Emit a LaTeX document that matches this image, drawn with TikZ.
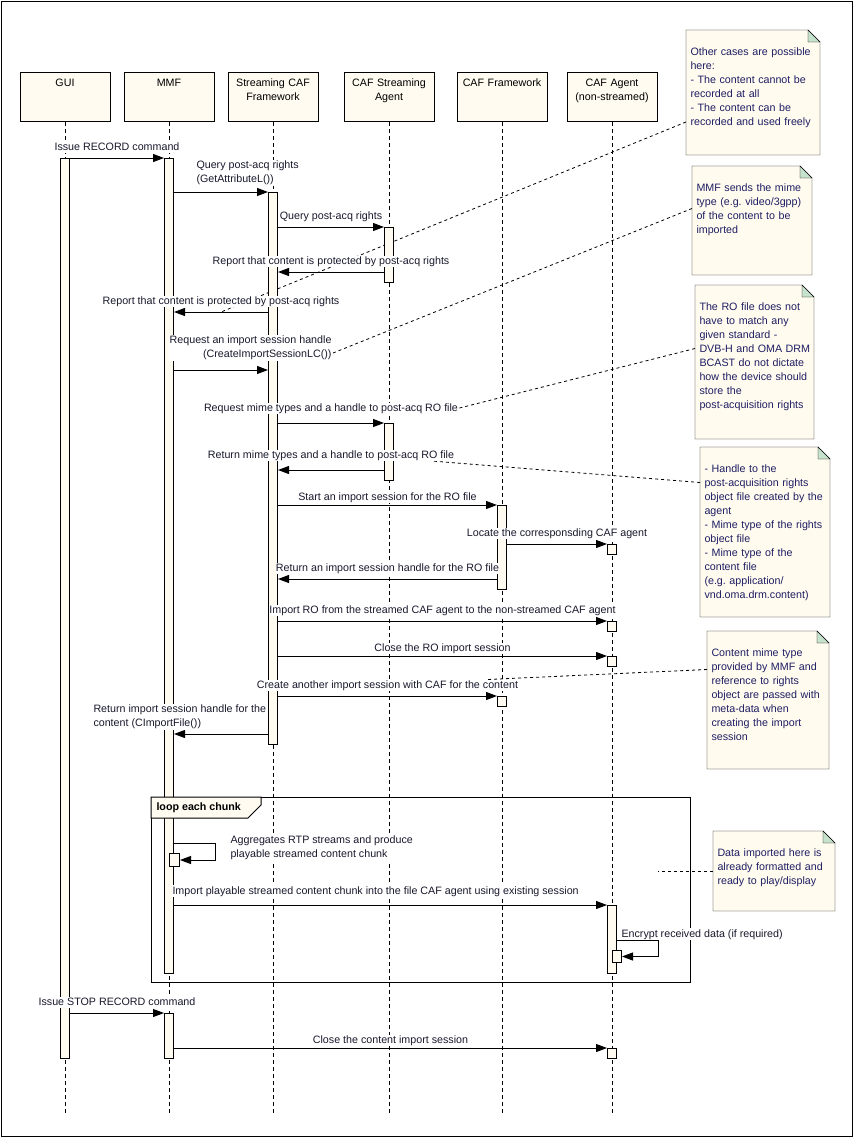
\documentclass[tikz,border=0pt]{standalone}
\usepackage{fontspec}
\setmainfont{Liberation Sans}
\usetikzlibrary{arrows.meta,backgrounds}
\frenchspacing

\definecolor{cream}{RGB}{255,251,240}
\definecolor{notefill}{RGB}{255,251,238}
\definecolor{fold}{RGB}{198,226,204}
\definecolor{notetext}{RGB}{30,30,100}
\definecolor{msgtext}{RGB}{25,25,45}

\tikzset{
  head/.style={draw, fill=cream, anchor=north, minimum width=90pt, minimum height=49pt,
    text width=86pt, align=center, inner sep=2pt, text height=12pt, text depth=33pt},
  life/.style={dash pattern=on 4pt off 3pt},
  act/.style={draw, fill=cream, anchor=north, minimum width=9pt, inner sep=0pt},
  msg/.style={->, >={Triangle[length=11pt,width=8pt]}},
  lbl/.style={above, fill=white, inner sep=0pt, yshift=5pt, text height=8pt, text depth=2.5pt, text=msgtext},
  lbll/.style={fill=white, inner sep=1pt, align=left, text=msgtext},
  note/.style={anchor=north west, inner xsep=4pt, inner ysep=5pt, text height=20pt, align=left, text=notetext},
  link/.style={dash pattern=on 3pt off 3pt, line width=0.8pt},
}

\begin{document}
\begin{tikzpicture}[x=1pt, y=-1pt, line width=1pt, font=\fontsize{10.7}{14}\selectfont]
   \useasboundingbox (0,0) rectangle (854,1138);
   \draw (1,1) rectangle (852,1136);

   % lifeline heads
   \node[head] (gui) at (65,72) {GUI};
   \node[head] (mmf) at (169,72) {MMF};
   \node[head] (scf) at (273,72) {Streaming CAF\\Framework};
   \node[head] (csa) at (389,72) {CAF Streaming\\Agent};
   \node[head] (cfw) at (502,72) {CAF Framework};
   \node[head] (caf) at (612,72) {CAF Agent\\(non-streamed)};
   \foreach \p in {gui,mmf,scf,csa,cfw,caf}
      \draw[life] (\p.south) -- (\p.south |- 0,1115);

   % activations
   \node[act, minimum height=900pt] (guiact) at (gui.south |- 0,158) {};
   \node[act, minimum height=815pt] (mmfact) at (mmf.south |- 0,158) {};
   \node[act, minimum height=45pt] (mmfact2) at (mmf.south |- 0,1013) {};
   \node[act, minimum height=552pt] (scfact) at (scf.south |- 0,192) {};
   \node[act, minimum height=55pt] (csaact) at (csa.south |- 0,227) {};
   \node[act, minimum height=57pt] (csaact2) at (csa.south |- 0,423) {};
   \node[act, minimum height=84pt] (cfwact) at (cfw.south |- 0,505) {};
   \node[act, minimum height=10pt] (cfwbox) at (cfw.south |- 0,696) {};
   \node[act, minimum height=10pt] (cafbox1) at (caf.south |- 0,544) {};
   \node[act, minimum height=10pt] (cafbox2) at (caf.south |- 0,621) {};
   \node[act, minimum height=10pt] (cafbox3) at (caf.south |- 0,656) {};
   \node[act, minimum height=68pt] (cafact) at (caf.south |- 0,905) {};
   \node[act, minimum height=10pt] (cafbox4) at (caf.south |- 0,1048) {};
   \node[act, anchor=north west, minimum width=10pt, minimum height=13pt] (mmfsub) at (mmf.south |- 0,853) {};
   \node[act, anchor=north west, minimum height=12pt] (cafsub) at (caf.south |- 0,950) {};

   % loop fragment
   \node[draw, anchor=north west, minimum width=539pt, minimum height=185pt, inner sep=0pt] (loopfr) at (151,797) {};
   \draw[fill=cream] (loopfr.north west) -- ++(110,0) -- ++(0,8) -- ++(-13,13) -- ++(-97,0) -- cycle;
   \node[anchor=west, inner sep=0pt, font=\fontsize{10.7}{14}\selectfont\bfseries] (looplbl) at (156,807.5) {loop each chunk};

   % messages
   \draw[msg] (guiact.east |- 0,158) -- node[lbl] (l1) {Issue RECORD command} (mmfact.west |- 0,158);
   \draw[msg] (mmfact.east |- 0,192) -- (scfact.north west);
   \node[lbll, anchor=south west] (l2) at (195,186) {Query post-acq rights\\(GetAttributeL())};
   \draw[msg] (scfact.east |- 0,227) -- node[lbl] (l3) {Query post-acq rights} (csaact.north west);
   \draw[msg] (csaact.west |- 0,272) -- node[lbl] (l4) {Report that content is protected by post-acq rights} (scfact.east |- 0,272);
   \draw[msg] (scfact.west |- 0,312) -- node[lbl] (l5) {Report that content is protected by post-acq rights} coordinate[midway] (m5) (mmfact.east |- 0,312);
   \draw[msg] (mmfact.east |- 0,370) -- (scfact.west |- 0,370);
   \node[lbll, align=right, anchor=south east] (l6) at (333,361) {Request an import session handle\\(CreateImportSessionLC())};
   \draw[msg] (scfact.east |- 0,423) -- node[lbl, yshift=4pt] (l7) {Request mime types and a handle to post-acq RO file} (csaact2.north west);
   \draw[msg] (csaact2.west |- 0,470) -- node[lbl, yshift=4pt] (l8) {Return mime types and a handle to post-acq RO file} (scfact.east |- 0,470);
   \draw[msg] (scfact.east |- 0,505) -- node[lbl, yshift=-3pt] (l9) {Start an import session for the RO file} (cfwact.north west);
   \draw[msg] (cfwact.east |- 0,544) -- node[lbl] (l10) {Locate the corresponsding CAF agent} (cafbox1.north west);
   \draw[msg] (cfwact.west |- 0,579) -- node[lbl] (l11) {Return an import session handle for the RO file} (scfact.east |- 0,579);
   \draw[msg] (scfact.east |- 0,621) -- node[lbl] (l12) {Import RO from the streamed CAF agent to the non-streamed CAF agent} (cafbox2.north west);
   \draw[msg] (scfact.east |- 0,656) -- node[lbl, yshift=-3pt] (l13) {Close the RO import session} (cafbox3.north west);
   \draw[msg] (scfact.east |- 0,696) -- node[lbl] (l14) {Create another import session with CAF for the content} (cfwbox.north west);
   \draw[msg] (scfact.west |- 0,734) -- (mmfact.east |- 0,734);
   \node[lbll, anchor=south west] (l15) at (92,730) {Return import session handle for the\\content (CImportFile())};
   \draw[msg] (mmfact.east |- 0,843) -- ++(41,0) |- (mmfsub.east);
   \node[lbll, anchor=south west] (l16) at (229,861) {Aggregates RTP streams and produce\\playable streamed content chunk};
   \draw[msg] (mmfact.east |- 0,905) -- (cafact.north west);
   \node[lbll, anchor=base west] (l17) at (171,894) {Import playable streamed content chunk into the file CAF agent using existing session};
   \draw[msg] (cafact.east |- 0,940) -- ++(41,0) |- (cafsub.east);
   \node[lbll, anchor=base west] (l18) at (620,937) {Encrypt received data (if required)};
   \draw[msg] (guiact.east |- 0,1013) -- node[lbl] (l20) {Issue STOP RECORD command} (mmfact2.north west);
   \draw[msg] (mmfact2.east |- 0,1048) -- node[lbl, yshift=-3pt] (l21) {Close the content import session} (cafbox4.north west);

   % notes
   \node[note, text width=125pt, text depth=94pt] (n1) at (686,30) {Other cases are possible\\here:\\- The content cannot be\\recorded at all\\- The content can be\\recorded and used freely};
   \node[note, text width=111pt, text depth=78pt] (n2) at (692,166) {MMF sends the mime\\type (e.g. video/3gpp)\\of the content to be\\imported};
   \node[note, text width=110pt, text depth=123pt] (n3) at (695,285) {The RO file does not\\have to match any\\given standard -\\\mbox{DVB-H and OMA DRM}\\BCAST do not dictate\\how the device should\\store the\\post-acquisition rights};
   \node[note, text width=121pt, text depth=139pt] (n4) at (700,447) {- Handle to the\\post-acquisition rights\\object file created by the\\agent\\- Mime type of the rights\\object file\\- Mime type of the\\content file\\(e.g. application/\\vnd.oma.drm.content)};
   \node[note, text width=113pt, text depth=107pt] (n5) at (707,631) {Content mime type\\provided by MMF and\\reference to rights\\object are passed with\\meta-data when\\creating the import\\session};
   \node[note, text width=113pt, text depth=49pt] (n6) at (713,831) {Data imported here is\\already formatted and\\ready to play/display};
   \coordinate (d6) at (658,871);

   \begin{scope}[on background layer]
      \foreach \n in {n1,n2,n3,n4,n5,n6} {
         \draw[fill=notefill] (\n.north west) -- ([xshift=-12pt]\n.north east) -- ([yshift=-12pt]\n.north east) -- (\n.south east) -- (\n.south west) -- cycle;
         \draw[fill=fold] ([xshift=-12pt]\n.north east) -- ([xshift=-12pt,yshift=-12pt]\n.north east) -- ([yshift=-12pt]\n.north east) -- cycle;
      }
      \draw[link] ([yshift=33pt]n1.south west) -- (m5);
      \draw[link] ([yshift=12pt]n2.west) -- ([yshift=-5.5pt]l6.east);
      \draw[link] ([yshift=13.5pt]n3.west) -- (l7.east);
      \draw[link] ([yshift=49.5pt]n4.west) -- ([xshift=-23pt]l8.south east);
      \draw[link] ([yshift=30.5pt]n5.west) -- ([xshift=-31pt]l14.north east);
      \draw[link] (n6.west) -- (d6);
   \end{scope}
\end{tikzpicture}
\end{document}
